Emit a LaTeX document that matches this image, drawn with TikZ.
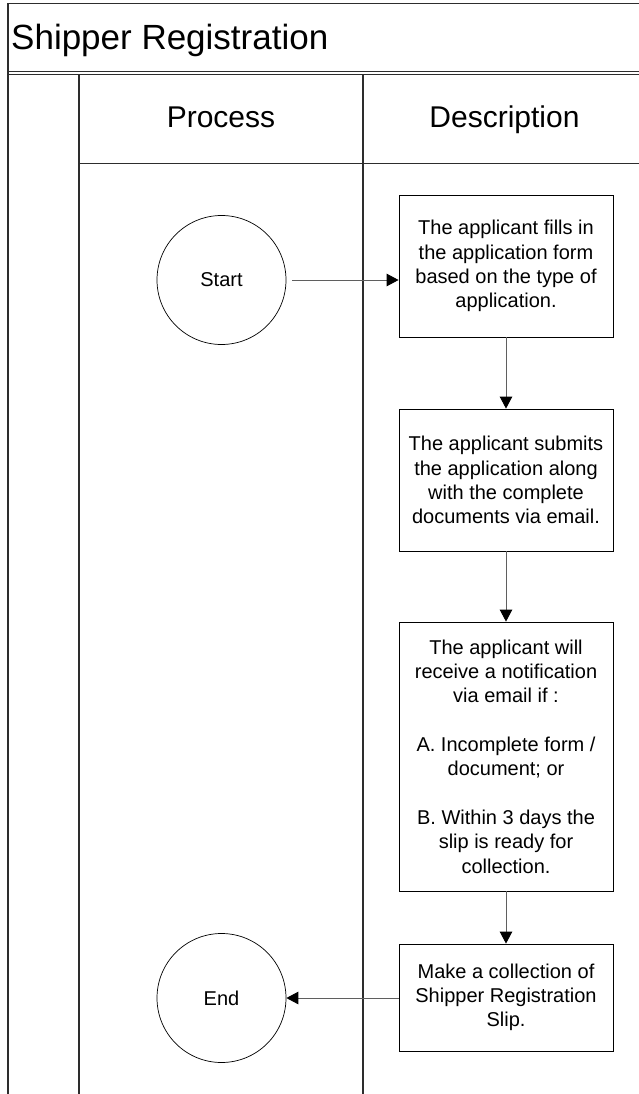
\documentclass[tikz,border=0pt]{standalone}
\usepackage{fontspec}
\setmainfont{Liberation Sans}
\usetikzlibrary{arrows.meta}
\definecolor{frameline}{RGB}{45,45,45}
\definecolor{conn}{RGB}{95,95,95}
\begin{document}
\begin{tikzpicture}[x=1pt,y=-1pt,
  lane/.style={draw=frameline, line width=1.3pt},
  thin/.style={draw=frameline, line width=0.8pt},
  box/.style={draw=black, line width=0.8pt, minimum width=214pt, inner sep=0pt, align=center, font=\fontsize{20}{24.3}\selectfont},
  term/.style={circle, draw=black, line width=0.7pt, minimum size=129pt, inner sep=0pt, font=\fontsize{20}{24}\selectfont},
  flow/.style={draw=conn, line width=1pt, -{Triangle[length=12pt,width=12.5pt,color=black]}},
  head/.style={anchor=base, inner sep=0pt, font=\fontsize{30}{36}\selectfont}]
\useasboundingbox (0,0) rectangle (639,1094);
% frame
\draw[thin] (8,3.3) -- (639,3.3);
\draw[lane] (8,3.3) -- (8,1094);
\draw[thin] (8,71.8) -- (639,71.8);
\draw[thin] (8,74.3) -- (639,74.3);
\draw[lane] (79,74.3) -- (79,1094);
\draw[lane] (363,74.3) -- (363,1094);
\draw[thin] (79,163.3) -- (639,163.3);
% texts
\node[anchor=base west, inner sep=0pt, font=\fontsize{35}{40}\selectfont] (title) at (11,50) {Shipper Registration};
\node[head] (proc) at (221,128) {Process};
\node[head] (desc) at (504.5,128) {Description};
% nodes
\node[term] (start) at (221.5,280) {Start};
\node[term] (end) at (221.5,998) {End};
\node[box, minimum height=142pt] (b1) at (506,266) {The applicant fills in\\the application form\\based on the type of\\application.};
\node[box, minimum height=142pt] (b2) at (506,480) {The applicant submits\\the application along\\with the complete\\documents via email.};
\node[box, minimum height=269pt] (b3) at (506,756.5) {The applicant will\\receive a notification\\via email if :\\\mbox{}\\A. Incomplete form /\\document; or\\\mbox{}\\B. Within 3 days the\\slip is ready for\\collection.};
\node[box, minimum height=107pt] (b4) at (506,997.5) {Make a collection of\\Shipper Registration\\Slip.};
% connectors
\coordinate (s1) at ([xshift=6pt]start.east);
\draw[flow] (s1) -- (s1 -| b1.west);
\draw[flow] (b1.south) -- (b2.north);
\draw[flow] (b2.south) -- (b3.north);
\draw[flow] (b3.south) -- (b4.north);
\draw[flow] (b4.west |- end.east) -- (end.east);
\end{tikzpicture}
\end{document}
